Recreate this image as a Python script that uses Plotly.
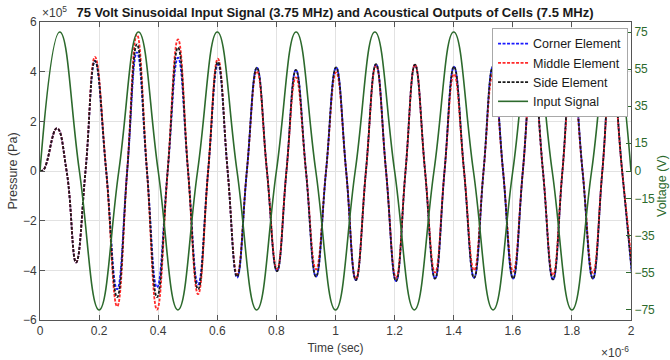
import plotly.graph_objects as go

# ---------------- data (time in microseconds, pressure in units of 1e5 Pa) ----------------
# times of the pressure waveform extrema (start, hump, then alternating trough/peak)
t_key = [0.0, 0.012, 0.057, 0.122, 0.186, 0.261, 0.328, 0.396, 0.467, 0.535, 0.602,
         0.667, 0.734, 0.802, 0.866, 0.934, 1.002, 1.069, 1.137, 1.205, 1.269,
         1.337, 1.401, 1.469, 1.533, 1.601, 1.667, 1.736, 1.800, 1.871, 1.934, 2.005]
# zero crossings read between the extrema
t_zero = [0.090, 0.154, 0.224, 0.295, 0.362, 0.432, 0.501, 0.569, 0.635, 0.700,
          0.768, 0.834, 0.900, 0.968, 1.036, 1.103, 1.171, 1.237, 1.303, 1.369,
          1.435, 1.501, 1.567, 1.634, 1.702, 1.768, 1.836, 1.903, 1.970]

corner_key = [0.0, 0.05, 1.72, -3.68, 4.43, -4.76, 4.78, -4.69, 4.56, -4.56, 4.29,
              -4.29, 4.16, -4.03, 4.07, -4.25, 4.17, -4.39, 4.30, -4.43, 4.28,
              -4.33, 4.20, -4.30, 4.20, -4.33, 4.25, -4.37, 4.30, -4.33, 4.20, -4.40]
middle_key = [0.0, 0.05, 1.72, -3.68, 4.59, -5.45, 5.50, -5.58, 5.30, -4.96, 4.52,
              -4.16, 4.02, -3.95, 3.77, -3.96, 3.97, -4.35, 4.24, -4.30, 4.28,
              -4.09, 3.90, -4.00, 3.90, -4.05, 4.20, -4.20, 4.00, -4.10, 4.10, -4.00]
side_key = [0.0, 0.05, 1.72, -3.68, 4.43, -5.08, 5.10, -5.08, 4.97, -4.76, 4.39,
            -4.25, 4.16, -4.03, 4.07, -4.25, 4.17, -4.39, 4.30, -4.43, 4.28,
            -4.33, 4.20, -4.30, 4.20, -4.33, 4.25, -4.37, 4.30, -4.33, 4.20, -4.40]

# input signal (3.75 MHz, 75 V) key points: zeros and peaks
t_in = [0.0, 0.0667, 0.1333, 0.2, 0.2667, 0.3333, 0.4, 0.4667, 0.5333, 0.6, 0.6667,
        0.7333, 0.8, 0.8667, 0.9333, 1.0, 1.0667, 1.1333, 1.2, 1.2667, 1.3333,
        1.4, 1.4667, 1.5333, 1.6, 1.6667, 1.7333, 1.8, 1.8667, 1.9333, 2.0]
v_in = [0, 75, 0, -75, 0, 75, 0, -75, 0, 75, 0, -75, 0, 75, 0, -75, 0,
        75, 0, -75, 0, 75, 0, -75, 0, 75, 0, -75, 0, 75, 0]

x_ticks = [0, 0.2, 0.4, 0.6, 0.8, 1, 1.2, 1.4, 1.6, 1.8, 2]
x_ticktext = ["0", "0.2", "0.4", "0.6", "0.8", "1", "1.2", "1.4", "1.6", "1.8", "2"]
y_ticks = [-6, -4, -2, 0, 2, 4, 6]
v_ticks = [-75, -55, -35, -15, 0, 15, 35, 55, 75]


def merged(values):
    pts = list(zip(t_key, values)) + [(t, 0.0) for t in t_zero]
    pts.sort(key=lambda p: p[0])
    return [p[0] for p in pts], [p[1] for p in pts]


FONT = "Liberation Sans, Arial, sans-serif"
TXT = "#3a3a3a"
GREEN = "#2d6a2d"

fig = go.Figure()
for name, vals, col in [("Corner Element", corner_key, "#1a1aff"),
                        ("Middle Element", middle_key, "#ff2a2a"),
                        ("Side Element", side_key, "#1a1a1a")]:
    xs, ys = merged(vals)
    fig.add_trace(go.Scatter(x=xs, y=ys, name=name, mode="lines",
                             line=dict(color=col, width=1.8, dash="3px,1.5px",
                                       shape="spline", smoothing=1.3)))

fig.add_trace(go.Scatter(x=t_in, y=v_in, name="Input Signal", mode="lines", yaxis="y2",
                         line=dict(color=GREEN, width=1.6, shape="spline", smoothing=1.3)))

fig.update_layout(
    width=670, height=360,
    margin=dict(l=40, r=39, t=22, b=40, autoexpand=False),
    paper_bgcolor="white", plot_bgcolor="white",
    font=dict(family=FONT, size=12, color=TXT),
    title=dict(text="<b>75 Volt Sinusoidal Input Signal (3.75 MHz) and Acoustical Outputs of Cells (7.5 MHz)</b>",
               x=0.5, xanchor="center", y=1 - 12 / 360, yanchor="middle",
               font=dict(size=13, color="#1a1a1a", family=FONT)),
    xaxis=dict(range=[0, 2], tickvals=x_ticks, ticktext=x_ticktext, automargin=False,
               showgrid=True, gridcolor="#e2e2e2", gridwidth=1, zeroline=False,
               showline=True, linecolor="#555555", linewidth=1, mirror="ticks",
               ticks="inside", ticklen=5, tickcolor="#555555",
               tickfont=dict(size=12, color=TXT),
               title=dict(text="Time (sec)", font=dict(size=12, color=TXT), standoff=6)),
    yaxis=dict(range=[-6, 6], tickvals=y_ticks, showgrid=True, gridcolor="#e2e2e2",
               automargin=False,
               zeroline=False, showline=True, linecolor="#555555", linewidth=1,
               ticks="inside", ticklen=5, tickcolor="#555555",
               tickfont=dict(size=12, color=TXT),
               title=dict(text="Pressure (Pa)", font=dict(size=12.5, color=TXT), standoff=2)),
    yaxis2=dict(range=[-80.4, 80.4], tickvals=v_ticks, overlaying="y", side="right",
                automargin=False,
                showgrid=False, zeroline=False, showline=True, linecolor="#555555",
                linewidth=1, ticks="inside", ticklen=5, tickcolor=GREEN,
                tickfont=dict(size=12, color=GREEN)),
    legend=dict(x=0.995, xanchor="right", y=0.98, yanchor="top",
                bgcolor="white", bordercolor="#a8a8a8", borderwidth=1,
                font=dict(size=12.5, color="#1a1a1a", family=FONT),
                tracegroupgap=0, itemwidth=30),
    showlegend=True,
    annotations=[
        dict(text="×10<sup>5</sup>", xref="paper", yref="paper", x=0.0, y=1.0,
             xanchor="left", yanchor="bottom", showarrow=False, yshift=0,
             font=dict(size=12, color=TXT)),
        dict(text="×10<sup>-6</sup>", xref="paper", yref="paper", x=1.0, y=0.0,
             xanchor="right", yanchor="top", showarrow=False, yshift=-22,
             font=dict(size=12, color=TXT)),
        dict(text="Voltage (V)", xref="paper", yref="paper", x=1.0, y=0.5,
             xanchor="left", yanchor="middle", textangle=-90, showarrow=False,
             xshift=22, yshift=-15, font=dict(size=12.5, color=GREEN)),
    ],
)

fig.write_html("out.html")
